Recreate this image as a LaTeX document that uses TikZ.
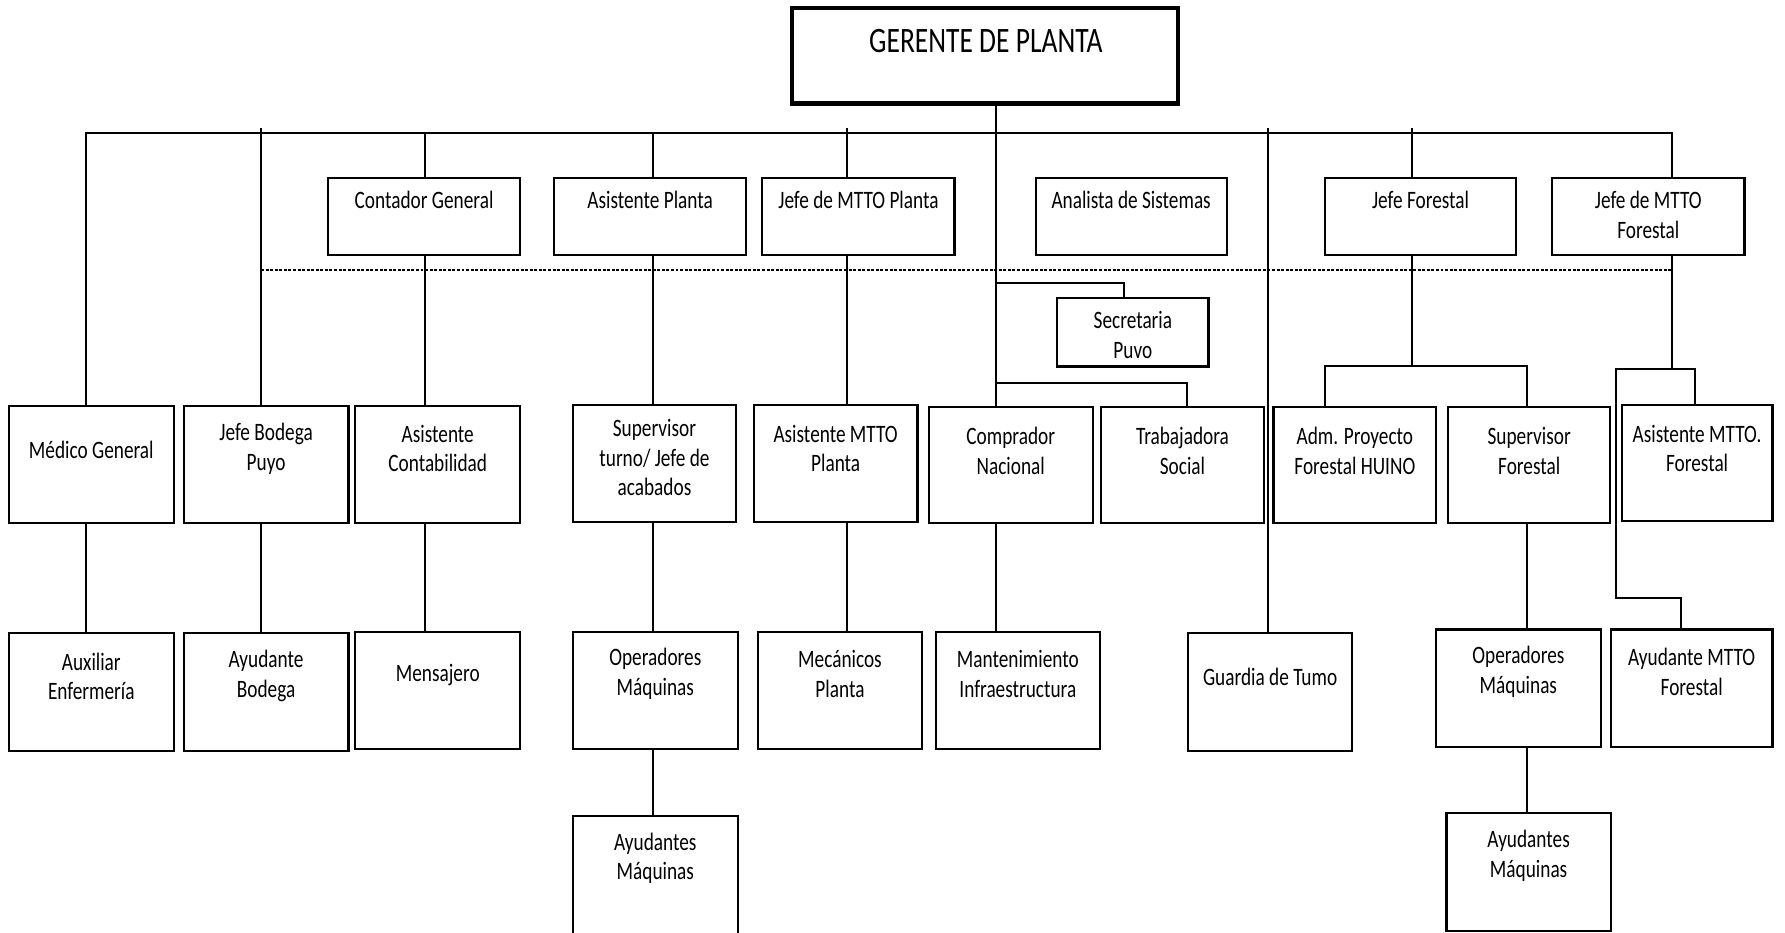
\documentclass[tikz,border=0pt]{standalone}
\usepackage{fontspec}
\setmainfont{Carlito}[FakeStretch=0.77]
\begin{document}
\begin{tikzpicture}[x=0.5pt,y=-0.5pt,
  boxst/.style={draw, line width=0.95pt, inner sep=0pt, outer sep=0pt},
  txt/.style={align=center, font=\fontsize{11}{13}\selectfont, inner sep=0pt},
  conn/.style={line width=0.85pt},
  dashline/.style={line width=0.8pt, dash pattern=on 1.3pt off 0.7pt},
  ]
\useasboundingbox (0,0) rectangle (1568,819);
\newcommand\orgbox[7]{%
  \node[boxst, minimum width={(#4-#2)*0.5pt}, minimum height={(#5-#3)*0.5pt}] (#1) at ({(#2+#4)/2},{(#3+#5)/2}) {};
  \node[txt] (#1-t) at ({(#2+#4)/2},#6) {#7};}
% top box
\node[draw, line width=1.9pt, inner sep=0pt, outer sep=0pt, minimum width={(1035-696)*0.5pt}, minimum height={(90.8-7.3)*0.5pt}] (ger) at ({(696+1035)/2},{(7.3+90.8)/2}) {};
\node[font=\fontsize{15.7}{18}\selectfont, inner sep=0pt] (ger-t) at (866,36) {GERENTE DE PLANTA};
% row 1
\orgbox{cont}{288}{156.7}{457}{224}{176}{Contador General}
\orgbox{asp}{486.6}{156.7}{655.6}{224}{176}{Asistente Planta}
\orgbox{jmp}{669.7}{156.7}{838.5}{224}{176}{Jefe de MTTO Planta}
\orgbox{ana}{909.7}{156.7}{1077.6}{224}{176}{Analista de Sistemas}
\orgbox{jf}{1163.9}{156.7}{1331.8}{224}{176}{Jefe Forestal}
\orgbox{jmf}{1363.4}{156.7}{1532.4}{224}{189}{Jefe de MTTO\\Forestal}
\orgbox{sec}{928.7}{261.5}{1061.6}{322}{294}{Secretaria\\Puvo}
% row 2
\orgbox{med}{7.6}{356.4}{152.8}{459.7}{395}{Médico General}
\orgbox{bod}{161.4}{356.4}{306.1}{459.7}{394}{Jefe Bodega\\Puyo}
\orgbox{acon}{312.2}{356.4}{456.9}{459.7}{394}{Asistente\\Contabilidad}
\orgbox{sup}{503.3}{355.8}{646.5}{458.3}{402}{Supervisor\\turno/ Jefe de\\acabados}
\orgbox{amp}{662.1}{355.8}{806}{458.3}{394}{Asistente MTTO\\Planta}
\orgbox{comp}{815.9}{357.8}{959.8}{459.7}{396}{Comprador\\Nacional}
\orgbox{trab}{967.3}{357.8}{1110.2}{459.7}{396}{Trabajadora\\Social}
\orgbox{adm}{1118.7}{357.8}{1261.6}{459.7}{396}{Adm. Proyecto\\Forestal HUINO}
\orgbox{sf}{1272.1}{357.8}{1414.5}{459.7}{396}{Supervisor\\Forestal}
\orgbox{amf}{1424.6}{355.8}{1557}{457.7}{394}{Asistente MTTO.\\Forestal}
% row 3
\orgbox{aux}{7.6}{556.4}{152.8}{659.7}{594}{Auxiliar\\Enfermería}
\orgbox{ayb}{161.4}{556.4}{306.1}{659.7}{594}{Ayudante\\Bodega}
\orgbox{mens}{312.2}{554.9}{456.9}{658.3}{593}{Mensajero}
\orgbox{ope}{503.3}{554.9}{648}{658.3}{592}{Operadores\\Máquinas}
\orgbox{mec}{665.7}{554.9}{810}{658.3}{592}{Mecánicos\\Planta}
\orgbox{mant}{821.9}{554.9}{966.3}{658.3}{592}{Mantenimiento\\Infraestructura}
\orgbox{gua}{1043.5}{556.4}{1187.9}{659.7}{595}{Guardia de Tumo}
\orgbox{opf}{1261.6}{552.9}{1406}{656.5}{590}{Operadores\\Máquinas}
\orgbox{aymf}{1415}{552.9}{1557}{656.5}{590}{Ayudante MTTO\\Forestal}
% row 4
\orgbox{ayu}{503.3}{716.5}{648}{822}{754}{Ayudantes\\Máquinas}
\orgbox{ayf}{1270.6}{714.5}{1415}{818}{752}{Ayudantes\\Máquinas}
% helper coordinates
\coordinate (bus) at (0,117);
\coordinate (bustop) at (0,112.7);
\coordinate (dash) at (0,237.2);
\coordinate (xmed) at (75.6,0);
\coordinate (xbod) at (229.4,0);
\coordinate (xcon) at (373.7,0);
\coordinate (xasp) at (573.9,0);
\coordinate (xjmp) at (744.3,0);
\coordinate (xger) at (874.6,0);
\coordinate (xgua) at (1113.7,0);
\coordinate (xjf) at (1240.6,0);
\coordinate (xjmf) at (1468.7,0);
\coordinate (sbr) at (987.4,248.3);
\coordinate (tbr) at (1043,336.2);
\coordinate (xadm) at (1163.9,0);
\coordinate (xsf) at (1341.3,0);
\coordinate (fbr) at (0,321.5);
\coordinate (xl) at (1419.6,0);
\coordinate (xr) at (1488.8,0);
\coordinate (xay) at (1476.7,0);
\coordinate (mbr) at (0,324);
\coordinate (mbr2) at (0,525.5);
% connectors
\draw[conn] (med.north -| xmed) -- (xmed |- bus) -- (xjmf |- bus) -- (jmf.north -| xjmf);
\draw[conn] (xbod |- bustop) -- (bod.north -| xbod);
\draw[conn] (xcon |- bus) -- (cont.north -| xcon);
\draw[conn] (xasp |- bus) -- (asp.north -| xasp);
\draw[conn] (xjmp |- bustop) -- (jmp.north -| xjmp);
\draw[conn] (ger.south -| xger) -- (comp.north -| xger);
\draw[conn] (xgua |- bustop) -- (gua.north -| xgua);
\draw[conn] (xjf |- bustop) -- (jf.north -| xjf);
\draw[dashline] (xbod |- dash) -- (xjmf |- dash);
\draw[conn] (xger |- sbr) -- (sbr) -- (sec.north -| sbr);
\draw[conn] (xger |- tbr) -- (tbr) -- (trab.north -| tbr);
\draw[conn] (cont.south -| xcon) -- (acon.north -| xcon);
\draw[conn] (acon.south -| xcon) -- (mens.north -| xcon);
\draw[conn] (asp.south -| xasp) -- (sup.north -| xasp);
\draw[conn] (sup.south -| xasp) -- (ope.north -| xasp);
\draw[conn] (ope.south -| xasp) -- (ayu.north -| xasp);
\draw[conn] (jmp.south -| xjmp) -- (amp.north -| xjmp);
\draw[conn] (amp.south -| xjmp) -- (mec.north -| xjmp);
\draw[conn] (med.south -| xmed) -- (aux.north -| xmed);
\draw[conn] (bod.south -| xbod) -- (ayb.north -| xbod);
\draw[conn] (comp.south -| xger) -- (mant.north -| xger);
\draw[conn] (jf.south -| xjf) -- (xjf |- fbr);
\draw[conn] (adm.north -| xadm) -- (xadm |- fbr) -- (xsf |- fbr) -- (sf.north -| xsf);
\draw[conn] (sf.south -| xsf) -- (opf.north -| xsf);
\draw[conn] (opf.south -| xsf) -- (ayf.north -| xsf);
\draw[conn] (jmf.south -| xjmf) -- (xjmf |- mbr);
\draw[conn] (amf.north -| xr) -- (xr |- mbr) -- (xl |- mbr) -- (xl |- mbr2) -- (xay |- mbr2) -- (aymf.north -| xay);
\end{tikzpicture}
\end{document}
